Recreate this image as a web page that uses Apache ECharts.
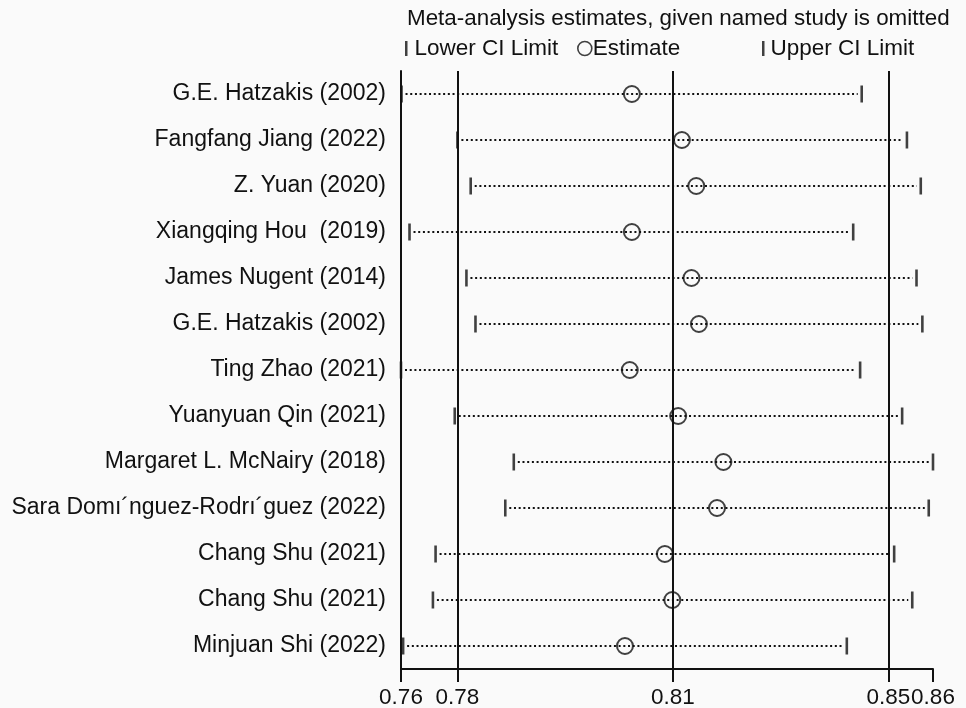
<!DOCTYPE html>
<html>
<head>
<meta charset="utf-8">
<title>Meta-analysis influence plot</title>
<script src="https://cdn.jsdelivr.net/npm/echarts@6/dist/echarts.min.js"></script>
<style>
  html, body { margin: 0; padding: 0; background: #fafafa; }
  #chart { width: 966px; height: 708px; }
</style>
</head>
<body>
<div id="chart"></div>
<script>
// Studies, in display order (top to bottom)
const studies = [
  'G.E. Hatzakis (2002)',
  'Fangfang Jiang (2022)',
  'Z. Yuan (2020)',
  'Xiangqing Hou  (2019)',
  'James Nugent (2014)',
  'G.E. Hatzakis (2002)',
  'Ting Zhao (2021)',
  'Yuanyuan Qin (2021)',
  'Margaret L. McNairy (2018)',
  'Sara Domı\u00b4nguez-Rodrı\u00b4guez (2022)',
  'Chang Shu (2021)',
  'Chang Shu (2021)',
  'Minjuan Shi (2022)'
];

// Pooled estimate and CI limits when each study is left out
const lowerCI  = [0.7601, 0.7706, 0.7731, 0.7616, 0.7723, 0.7740, 0.7600, 0.7701, 0.7812, 0.7796, 0.7665, 0.7660, 0.7604];
const estimate = [0.8034, 0.8128, 0.8155, 0.8034, 0.8146, 0.8160, 0.8030, 0.8121, 0.8206, 0.8194, 0.8096, 0.8110, 0.8021];
const upperCI  = [0.8466, 0.8551, 0.8577, 0.8450, 0.8569, 0.8580, 0.8463, 0.8542, 0.8600, 0.8592, 0.8527, 0.8561, 0.8438];

// Full-data pooled lower limit, estimate and upper limit (vertical reference lines)
const refLines = [0.7706, 0.8111, 0.8516];

// Axis ticks and their printed labels
const tickValues = [0.76, 0.7706, 0.8111, 0.8516, 0.86];
const tickLabels = ['0.76', '0.78', '0.81', '0.85', '0.86'];

const INK = '#111111';
const FONT = '"Liberation Sans", Arial, Helvetica, sans-serif';

const chart = echarts.init(document.getElementById('chart'), null, { renderer: 'canvas' });

const legendText = { fontFamily: FONT, fontSize: 22.5, color: INK };

const option = {
  backgroundColor: '#fafafa',
  animation: false,
  textStyle: { fontFamily: FONT, color: INK },
  title: {
    text: 'Meta-analysis estimates, given named study is omitted',
    left: 402,
    top: 3,
    textStyle: { fontFamily: FONT, fontSize: 22.4, fontWeight: 'normal', color: INK }
  },
  legend: [
    {
      data: ['Lower CI Limit'],
      left: 400, top: 32,
      selectedMode: false,
      icon: 'rect',
      itemWidth: 2.5, itemHeight: 15,
      textStyle: Object.assign({ padding: [0, 0, 0, 2] }, legendText)
    },
    {
      data: ['Estimate'],
      left: 572, top: 32,
      selectedMode: false,
      icon: 'circle',
      itemWidth: 14, itemHeight: 14,
      itemStyle: { color: 'transparent', borderColor: INK, borderWidth: 1.6 },
      textStyle: Object.assign({ padding: [0, 0, 0, -4] }, legendText)
    },
    {
      data: ['Upper CI Limit'],
      left: 757, top: 32,
      selectedMode: false,
      icon: 'rect',
      itemWidth: 2.5, itemHeight: 15,
      textStyle: Object.assign({ padding: [0, 0, 0, 1] }, legendText)
    }
  ],
  grid: {
    left: 401, right: 33, top: 71, bottom: 39,
    containLabel: false,
    outerBoundsMode: 'none'
  },
  xAxis: {
    type: 'value',
    min: 0.76,
    max: 0.86,
    splitLine: { show: false },
    axisLine: { show: true, lineStyle: { color: INK, width: 2 } },
    axisTick: {
      show: true,
      customValues: tickValues,
      length: 13,
      lineStyle: { color: INK, width: 2 }
    },
    axisLabel: {
      customValues: tickValues,
      margin: 17,
      fontFamily: FONT,
      fontSize: 22.5,
      color: INK,
      formatter: function (v) {
        const i = tickValues.findIndex(t => Math.abs(t - v) < 1e-6);
        return i >= 0 ? tickLabels[i] : '';
      }
    }
  },
  yAxis: {
    type: 'category',
    data: studies,
    inverse: true,
    boundaryGap: true,
    axisLine: { show: true, lineStyle: { color: INK, width: 2 } },
    axisTick: { show: false },
    splitLine: { show: false },
    axisLabel: {
      margin: 15,
      fontFamily: FONT,
      fontSize: 23,
      color: INK,
      interval: 0
    }
  },
  series: [
    {
      // dotted span between the lower and upper limits of each row
      type: 'custom',
      silent: true,
      z: 1,
      encode: { x: [0, 1], y: 2 },
      data: studies.map((s, i) => [lowerCI[i], upperCI[i], i]),
      renderItem: function (params, api) {
        const a = api.coord([api.value(0), api.value(2)]);
        const b = api.coord([api.value(1), api.value(2)]);
        const y = Math.round(a[1]);
        return {
          type: 'line',
          shape: { x1: a[0] + 4, y1: y, x2: b[0] - 4, y2: y },
          style: { stroke: INK, lineWidth: 2.2, lineDash: [2, 2.7] }
        };
      }
    },
    {
      // vertical reference lines at the full-data pooled values
      type: 'scatter',
      silent: true,
      data: [],
      markLine: {
        silent: true,
        symbol: 'none',
        precision: 4,
        label: { show: false },
        lineStyle: { color: INK, width: 2, type: 'solid' },
        data: refLines.map(v => ({ xAxis: v }))
      }
    },
    {
      name: 'Lower CI Limit',
      type: 'scatter',
      z: 3,
      symbol: 'rect',
      symbolSize: [2.6, 17],
      itemStyle: { color: INK },
      data: lowerCI.map((v, i) => [v, i])
    },
    {
      name: 'Estimate',
      type: 'scatter',
      z: 4,
      symbol: 'circle',
      symbolSize: 16,
      itemStyle: { color: 'transparent', borderColor: INK, borderWidth: 2 },
      data: estimate.map((v, i) => [v, i])
    },
    {
      name: 'Upper CI Limit',
      type: 'scatter',
      z: 3,
      symbol: 'rect',
      symbolSize: [2.6, 17],
      itemStyle: { color: INK },
      data: upperCI.map((v, i) => [v, i])
    }
  ]
};

chart.setOption(option);
</script>
</body>
</html>
